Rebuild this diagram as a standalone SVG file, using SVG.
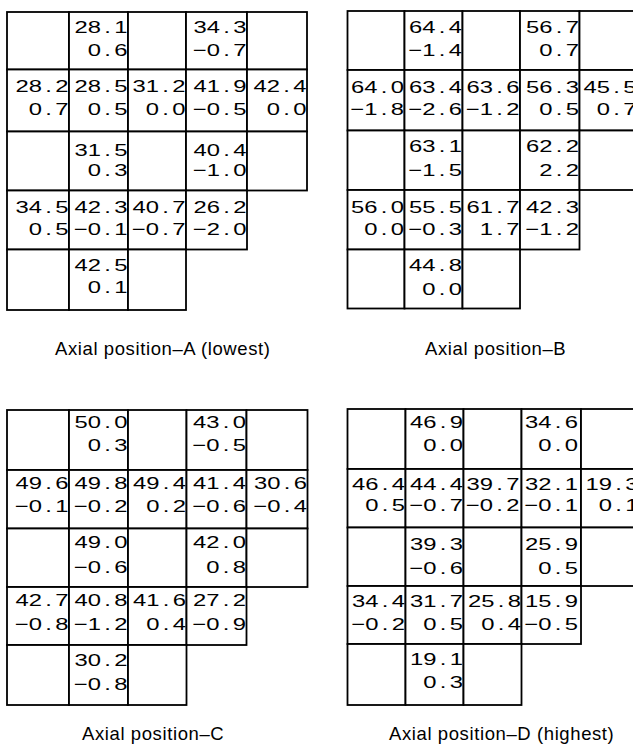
<svg xmlns="http://www.w3.org/2000/svg" width="633" height="744" viewBox="0 0 633 744">
<style>
rect{fill:#fff;stroke:#000;stroke-width:1.8}
.n{font-family:"Liberation Sans",Arial,sans-serif;font-size:17px;text-anchor:end;fill:#000;transform:scale(1.4,1)}
.cap{font-family:"Liberation Sans",Arial,sans-serif;font-size:18.5px;letter-spacing:0.6px;fill:#000}
</style>
<rect x="0" y="0" width="633" height="744" style="stroke:none"/>
<g id="grid-A">
<g id="A-r0c0"><rect x="7" y="12" width="62" height="57.5"/></g>
<g id="A-r0c1"><rect x="69" y="12" width="59" height="57.5"/><text class="n" x="91.07" y="33.5" dx="0 0 2.4 2.4">28.1</text><text class="n" x="91.07" y="56" dx="0 2.4 2.4">0.6</text></g>
<g id="A-r0c2"><rect x="128" y="12" width="58" height="57.5"/></g>
<g id="A-r0c3"><rect x="186" y="12" width="61" height="57.5"/><text class="n" x="176.07" y="33.5" dx="0 0 2.4 2.4">34.3</text><text class="n" x="176.07" y="56" dx="0 0 2.4 2.4">−0.7</text></g>
<g id="A-r0c4"><rect x="247" y="12" width="60" height="57.5"/></g>
<g id="A-r1c0"><rect x="7" y="69.5" width="62" height="62"/><text class="n" x="48.93" y="92.5" dx="0 0 2.4 2.4">28.2</text><text class="n" x="48.93" y="115" dx="0 2.4 2.4">0.7</text></g>
<g id="A-r1c1"><rect x="69" y="69.5" width="59" height="62"/><text class="n" x="91.07" y="92.5" dx="0 0 2.4 2.4">28.5</text><text class="n" x="91.07" y="115" dx="0 2.4 2.4">0.5</text></g>
<g id="A-r1c2"><rect x="128" y="69.5" width="58" height="62"/><text class="n" x="132.5" y="92.5" dx="0 0 2.4 2.4">31.2</text><text class="n" x="132.5" y="115" dx="0 2.4 2.4">0.0</text></g>
<g id="A-r1c3"><rect x="186" y="69.5" width="61" height="62"/><text class="n" x="176.07" y="92.5" dx="0 0 2.4 2.4">41.9</text><text class="n" x="176.07" y="115" dx="0 0 2.4 2.4">−0.5</text></g>
<g id="A-r1c4"><rect x="247" y="69.5" width="60" height="62"/><text class="n" x="218.93" y="92.5" dx="0 0 2.4 2.4">42.4</text><text class="n" x="218.93" y="115" dx="0 2.4 2.4">0.0</text></g>
<g id="A-r2c0"><rect x="7" y="131.5" width="62" height="59"/></g>
<g id="A-r2c1"><rect x="69" y="131.5" width="59" height="59"/><text class="n" x="91.07" y="156" dx="0 0 2.4 2.4">31.5</text><text class="n" x="91.07" y="176.5" dx="0 2.4 2.4">0.3</text></g>
<g id="A-r2c2"><rect x="128" y="131.5" width="58" height="59"/></g>
<g id="A-r2c3"><rect x="186" y="131.5" width="61" height="59"/><text class="n" x="176.07" y="156" dx="0 0 2.4 2.4">40.4</text><text class="n" x="176.07" y="176.5" dx="0 0 2.4 2.4">−1.0</text></g>
<g id="A-r2c4"><rect x="247" y="131.5" width="60" height="59"/></g>
<g id="A-r3c0"><rect x="7" y="190.5" width="62" height="59"/><text class="n" x="48.93" y="213.5" dx="0 0 2.4 2.4">34.5</text><text class="n" x="48.93" y="235" dx="0 2.4 2.4">0.5</text></g>
<g id="A-r3c1"><rect x="69" y="190.5" width="59" height="59"/><text class="n" x="91.07" y="213.5" dx="0 0 2.4 2.4">42.3</text><text class="n" x="91.07" y="235" dx="0 0 2.4 2.4">−0.1</text></g>
<g id="A-r3c2"><rect x="128" y="190.5" width="58" height="59"/><text class="n" x="132.5" y="213.5" dx="0 0 2.4 2.4">40.7</text><text class="n" x="132.5" y="235" dx="0 0 2.4 2.4">−0.7</text></g>
<g id="A-r3c3"><rect x="186" y="190.5" width="61" height="59"/><text class="n" x="176.07" y="213.5" dx="0 0 2.4 2.4">26.2</text><text class="n" x="176.07" y="235" dx="0 0 2.4 2.4">−2.0</text></g>
<g id="A-r4c0"><rect x="7" y="249.5" width="62" height="60.5"/></g>
<g id="A-r4c1"><rect x="69" y="249.5" width="59" height="60.5"/><text class="n" x="91.07" y="271.5" dx="0 0 2.4 2.4">42.5</text><text class="n" x="91.07" y="293.5" dx="0 2.4 2.4">0.1</text></g>
<g id="A-r4c2"><rect x="128" y="249.5" width="58" height="60.5"/></g>
<text id="cap-A" class="cap" x="55" y="355">Axial position–A (lowest)</text>
</g>
<g id="grid-B">
<g id="B-r0c0"><rect x="347.5" y="11" width="57" height="59"/></g>
<g id="B-r0c1"><rect x="404.5" y="11" width="58" height="59"/><text class="n" x="330" y="33.5" dx="0 0 2.4 2.4">64.4</text><text class="n" x="330" y="56.5" dx="0 0 2.4 2.4">−1.4</text></g>
<g id="B-r0c2"><rect x="462.5" y="11" width="57.5" height="59"/></g>
<g id="B-r0c3"><rect x="520" y="11" width="59.5" height="59"/><text class="n" x="413.57" y="33.5" dx="0 0 2.4 2.4">56.7</text><text class="n" x="413.57" y="56.5" dx="0 2.4 2.4">0.7</text></g>
<g id="B-r0c4"><rect x="579.5" y="11" width="57.5" height="59"/></g>
<g id="B-r1c0"><rect x="347.5" y="70" width="57" height="60.5"/><text class="n" x="288.57" y="93" dx="0 0 2.4 2.4">64.0</text><text class="n" x="288.57" y="115" dx="0 0 2.4 2.4">−1.8</text></g>
<g id="B-r1c1"><rect x="404.5" y="70" width="58" height="60.5"/><text class="n" x="330" y="93" dx="0 0 2.4 2.4">63.4</text><text class="n" x="330" y="115" dx="0 0 2.4 2.4">−2.6</text></g>
<g id="B-r1c2"><rect x="462.5" y="70" width="57.5" height="60.5"/><text class="n" x="371.07" y="93" dx="0 0 2.4 2.4">63.6</text><text class="n" x="371.07" y="115" dx="0 0 2.4 2.4">−1.2</text></g>
<g id="B-r1c3"><rect x="520" y="70" width="59.5" height="60.5"/><text class="n" x="413.57" y="93" dx="0 0 2.4 2.4">56.3</text><text class="n" x="413.57" y="115" dx="0 2.4 2.4">0.5</text></g>
<g id="B-r1c4"><rect x="579.5" y="70" width="57.5" height="60.5"/><text class="n" x="454.64" y="93" dx="0 0 2.4 2.4">45.5</text><text class="n" x="454.64" y="115" dx="0 2.4 2.4">0.7</text></g>
<g id="B-r2c0"><rect x="347.5" y="130.5" width="57" height="59.5"/></g>
<g id="B-r2c1"><rect x="404.5" y="130.5" width="58" height="59.5"/><text class="n" x="330" y="152" dx="0 0 2.4 2.4">63.1</text><text class="n" x="330" y="176.5" dx="0 0 2.4 2.4">−1.5</text></g>
<g id="B-r2c2"><rect x="462.5" y="130.5" width="57.5" height="59.5"/></g>
<g id="B-r2c3"><rect x="520" y="130.5" width="59.5" height="59.5"/><text class="n" x="413.57" y="152" dx="0 0 2.4 2.4">62.2</text><text class="n" x="413.57" y="176.5" dx="0 2.4 2.4">2.2</text></g>
<g id="B-r2c4"><rect x="579.5" y="130.5" width="57.5" height="59.5"/></g>
<g id="B-r3c0"><rect x="347.5" y="190" width="57" height="59.5"/><text class="n" x="288.57" y="213.5" dx="0 0 2.4 2.4">56.0</text><text class="n" x="288.57" y="235" dx="0 2.4 2.4">0.0</text></g>
<g id="B-r3c1"><rect x="404.5" y="190" width="58" height="59.5"/><text class="n" x="330" y="213.5" dx="0 0 2.4 2.4">55.5</text><text class="n" x="330" y="235" dx="0 0 2.4 2.4">−0.3</text></g>
<g id="B-r3c2"><rect x="462.5" y="190" width="57.5" height="59.5"/><text class="n" x="371.07" y="213.5" dx="0 0 2.4 2.4">61.7</text><text class="n" x="371.07" y="235" dx="0 2.4 2.4">1.7</text></g>
<g id="B-r3c3"><rect x="520" y="190" width="59.5" height="59.5"/><text class="n" x="413.57" y="213.5" dx="0 0 2.4 2.4">42.3</text><text class="n" x="413.57" y="235" dx="0 0 2.4 2.4">−1.2</text></g>
<g id="B-r4c0"><rect x="347.5" y="249.5" width="57" height="59"/></g>
<g id="B-r4c1"><rect x="404.5" y="249.5" width="58" height="59"/><text class="n" x="330" y="271.5" dx="0 0 2.4 2.4">44.8</text><text class="n" x="330" y="295" dx="0 2.4 2.4">0.0</text></g>
<g id="B-r4c2"><rect x="462.5" y="249.5" width="57.5" height="59"/></g>
<text id="cap-B" class="cap" x="425" y="355">Axial position–B</text>
</g>
<g id="grid-C">
<g id="C-r0c0"><rect x="7" y="410" width="62" height="60"/></g>
<g id="C-r0c1"><rect x="69" y="410" width="59" height="60"/><text class="n" x="91.07" y="428.5" dx="0 0 2.4 2.4">50.0</text><text class="n" x="91.07" y="451.5" dx="0 2.4 2.4">0.3</text></g>
<g id="C-r0c2"><rect x="128" y="410" width="58.5" height="60"/></g>
<g id="C-r0c3"><rect x="186.5" y="410" width="60" height="60"/><text class="n" x="175.71" y="428.5" dx="0 0 2.4 2.4">43.0</text><text class="n" x="175.71" y="451.5" dx="0 0 2.4 2.4">−0.5</text></g>
<g id="C-r0c4"><rect x="246.5" y="410" width="61" height="60"/></g>
<g id="C-r1c0"><rect x="7" y="470" width="62" height="58.5"/><text class="n" x="48.93" y="489.5" dx="0 0 2.4 2.4">49.6</text><text class="n" x="48.93" y="512.5" dx="0 0 2.4 2.4">−0.1</text></g>
<g id="C-r1c1"><rect x="69" y="470" width="59" height="58.5"/><text class="n" x="91.07" y="489.5" dx="0 0 2.4 2.4">49.8</text><text class="n" x="91.07" y="512.5" dx="0 0 2.4 2.4">−0.2</text></g>
<g id="C-r1c2"><rect x="128" y="470" width="58.5" height="58.5"/><text class="n" x="132.86" y="489.5" dx="0 0 2.4 2.4">49.4</text><text class="n" x="132.86" y="512.5" dx="0 2.4 2.4">0.2</text></g>
<g id="C-r1c3"><rect x="186.5" y="470" width="60" height="58.5"/><text class="n" x="175.71" y="489.5" dx="0 0 2.4 2.4">41.4</text><text class="n" x="175.71" y="512.5" dx="0 0 2.4 2.4">−0.6</text></g>
<g id="C-r1c4"><rect x="246.5" y="470" width="61" height="58.5"/><text class="n" x="219.29" y="489.5" dx="0 0 2.4 2.4">30.6</text><text class="n" x="219.29" y="512.5" dx="0 0 2.4 2.4">−0.4</text></g>
<g id="C-r2c0"><rect x="7" y="528.5" width="62" height="58.5"/></g>
<g id="C-r2c1"><rect x="69" y="528.5" width="59" height="58.5"/><text class="n" x="91.07" y="548.5" dx="0 0 2.4 2.4">49.0</text><text class="n" x="91.07" y="573.5" dx="0 0 2.4 2.4">−0.6</text></g>
<g id="C-r2c2"><rect x="128" y="528.5" width="58.5" height="58.5"/></g>
<g id="C-r2c3"><rect x="186.5" y="528.5" width="60" height="58.5"/><text class="n" x="175.71" y="548.5" dx="0 0 2.4 2.4">42.0</text><text class="n" x="175.71" y="573.5" dx="0 2.4 2.4">0.8</text></g>
<g id="C-r2c4"><rect x="246.5" y="528.5" width="61" height="58.5"/></g>
<g id="C-r3c0"><rect x="7" y="587" width="62" height="58"/><text class="n" x="48.93" y="606.5" dx="0 0 2.4 2.4">42.7</text><text class="n" x="48.93" y="630" dx="0 0 2.4 2.4">−0.8</text></g>
<g id="C-r3c1"><rect x="69" y="587" width="59" height="58"/><text class="n" x="91.07" y="606.5" dx="0 0 2.4 2.4">40.8</text><text class="n" x="91.07" y="630" dx="0 0 2.4 2.4">−1.2</text></g>
<g id="C-r3c2"><rect x="128" y="587" width="58.5" height="58"/><text class="n" x="132.86" y="606.5" dx="0 0 2.4 2.4">41.6</text><text class="n" x="132.86" y="630" dx="0 2.4 2.4">0.4</text></g>
<g id="C-r3c3"><rect x="186.5" y="587" width="60" height="58"/><text class="n" x="175.71" y="606.5" dx="0 0 2.4 2.4">27.2</text><text class="n" x="175.71" y="630" dx="0 0 2.4 2.4">−0.9</text></g>
<g id="C-r4c0"><rect x="7" y="645" width="62" height="60"/></g>
<g id="C-r4c1"><rect x="69" y="645" width="59" height="60"/><text class="n" x="91.07" y="666.5" dx="0 0 2.4 2.4">30.2</text><text class="n" x="91.07" y="690" dx="0 0 2.4 2.4">−0.8</text></g>
<g id="C-r4c2"><rect x="128" y="645" width="58.5" height="60"/></g>
<text id="cap-C" class="cap" x="82" y="740">Axial position–C</text>
</g>
<g id="grid-D">
<g id="D-r0c0"><rect x="347.5" y="409" width="58" height="60"/></g>
<g id="D-r0c1"><rect x="405.5" y="409" width="58" height="60"/><text class="n" x="330.71" y="428.5" dx="0 0 2.4 2.4">46.9</text><text class="n" x="330.71" y="451.5" dx="0 2.4 2.4">0.0</text></g>
<g id="D-r0c2"><rect x="463.5" y="409" width="58" height="60"/></g>
<g id="D-r0c3"><rect x="521.5" y="409" width="59.5" height="60"/><text class="n" x="412.86" y="428.5" dx="0 0 2.4 2.4">34.6</text><text class="n" x="412.86" y="451.5" dx="0 2.4 2.4">0.0</text></g>
<g id="D-r0c4"><rect x="581" y="409" width="58" height="60"/></g>
<g id="D-r1c0"><rect x="347.5" y="469" width="58" height="58.5"/><text class="n" x="289.29" y="490.5" dx="0 0 2.4 2.4">46.4</text><text class="n" x="289.29" y="511.5" dx="0 2.4 2.4">0.5</text></g>
<g id="D-r1c1"><rect x="405.5" y="469" width="58" height="58.5"/><text class="n" x="330.71" y="490.5" dx="0 0 2.4 2.4">44.4</text><text class="n" x="330.71" y="511.5" dx="0 0 2.4 2.4">−0.7</text></g>
<g id="D-r1c2"><rect x="463.5" y="469" width="58" height="58.5"/><text class="n" x="371.07" y="490.5" dx="0 0 2.4 2.4">39.7</text><text class="n" x="371.07" y="511.5" dx="0 0 2.4 2.4">−0.2</text></g>
<g id="D-r1c3"><rect x="521.5" y="469" width="59.5" height="58.5"/><text class="n" x="412.86" y="490.5" dx="0 0 2.4 2.4">32.1</text><text class="n" x="412.86" y="511.5" dx="0 0 2.4 2.4">−0.1</text></g>
<g id="D-r1c4"><rect x="581" y="469" width="58" height="58.5"/><text class="n" x="456.07" y="490.5" dx="0 0 2.4 2.4">19.3</text><text class="n" x="456.07" y="511.5" dx="0 2.4 2.4">0.1</text></g>
<g id="D-r2c0"><rect x="347.5" y="527.5" width="58" height="58.5"/></g>
<g id="D-r2c1"><rect x="405.5" y="527.5" width="58" height="58.5"/><text class="n" x="330.71" y="550" dx="0 0 2.4 2.4">39.3</text><text class="n" x="330.71" y="574" dx="0 0 2.4 2.4">−0.6</text></g>
<g id="D-r2c2"><rect x="463.5" y="527.5" width="58" height="58.5"/></g>
<g id="D-r2c3"><rect x="521.5" y="527.5" width="59.5" height="58.5"/><text class="n" x="412.86" y="550" dx="0 0 2.4 2.4">25.9</text><text class="n" x="412.86" y="574" dx="0 2.4 2.4">0.5</text></g>
<g id="D-r2c4"><rect x="581" y="527.5" width="58" height="58.5"/></g>
<g id="D-r3c0"><rect x="347.5" y="586" width="58" height="58"/><text class="n" x="289.29" y="607.5" dx="0 0 2.4 2.4">34.4</text><text class="n" x="289.29" y="630.5" dx="0 0 2.4 2.4">−0.2</text></g>
<g id="D-r3c1"><rect x="405.5" y="586" width="58" height="58"/><text class="n" x="330.71" y="607.5" dx="0 0 2.4 2.4">31.7</text><text class="n" x="330.71" y="630.5" dx="0 2.4 2.4">0.5</text></g>
<g id="D-r3c2"><rect x="463.5" y="586" width="58" height="58"/><text class="n" x="372.14" y="607.5" dx="0 0 2.4 2.4">25.8</text><text class="n" x="372.14" y="630.5" dx="0 2.4 2.4">0.4</text></g>
<g id="D-r3c3"><rect x="521.5" y="586" width="59.5" height="58"/><text class="n" x="412.86" y="607.5" dx="0 0 2.4 2.4">15.9</text><text class="n" x="412.86" y="630.5" dx="0 0 2.4 2.4">−0.5</text></g>
<g id="D-r4c0"><rect x="347.5" y="644" width="58" height="61"/></g>
<g id="D-r4c1"><rect x="405.5" y="644" width="58" height="61"/><text class="n" x="330.71" y="665" dx="0 0 2.4 2.4">19.1</text><text class="n" x="330.71" y="688" dx="0 2.4 2.4">0.3</text></g>
<g id="D-r4c2"><rect x="463.5" y="644" width="58" height="61"/></g>
<text id="cap-D" class="cap" x="389" y="740">Axial position–D (highest)</text>
</g>
</svg>
